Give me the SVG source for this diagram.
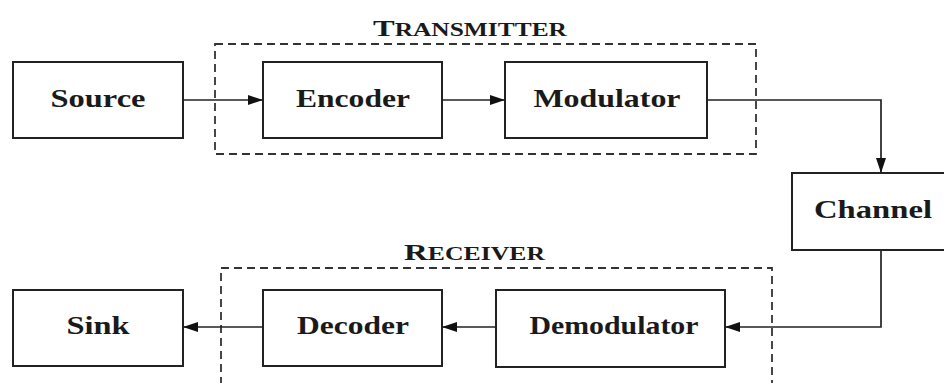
<svg xmlns="http://www.w3.org/2000/svg" width="944" height="383" viewBox="0 0 944 383">
<style>
.box{fill:#fff;stroke:#222;stroke-width:2}
.grp{fill:none;stroke:#333;stroke-width:1.8;stroke-dasharray:8 5}
.lbl{font-family:"Liberation Serif","Times New Roman",serif;font-weight:bold;font-size:26px;fill:#1a1a1a;text-anchor:middle}
.cap{font-family:"Liberation Serif","Times New Roman",serif;font-weight:bold;fill:#1a1a1a}
.wire{fill:none;stroke:#222;stroke-width:1.7}
</style>
<defs>
<marker id="arr" viewBox="0 0 15 10" refX="15" refY="5" markerWidth="15" markerHeight="10" markerUnits="userSpaceOnUse" orient="auto">
<path d="M0,0 L15,5 L0,10 z" fill="#111"/>
</marker>
</defs>
<rect width="944" height="383" fill="#fff"/>
<g id="transmitter">
<rect class="grp" x="215" y="44" width="541" height="110"/>
<text class="cap" x="373" y="36" textLength="194" lengthAdjust="spacingAndGlyphs"><tspan font-size="23">T</tspan><tspan font-size="18">RANSMITTER</tspan></text>
</g>
<g id="receiver">
<rect class="grp" x="221" y="268" width="551" height="125"/>
<text class="cap" x="404" y="260" textLength="141" lengthAdjust="spacingAndGlyphs"><tspan font-size="23">R</tspan><tspan font-size="18">ECEIVER</tspan></text>
</g>
<g id="source">
<rect class="box" x="13" y="62" width="170" height="76"/>
<text class="lbl" x="98" y="107" textLength="95" lengthAdjust="spacingAndGlyphs">Source</text>
</g>
<g id="encoder">
<rect class="box" x="263" y="62" width="179" height="76"/>
<text class="lbl" x="353" y="107" textLength="114" lengthAdjust="spacingAndGlyphs">Encoder</text>
</g>
<g id="modulator">
<rect class="box" x="505" y="62" width="202" height="76"/>
<text class="lbl" x="607" y="107" textLength="147" lengthAdjust="spacingAndGlyphs">Modulator</text>
</g>
<g id="channel">
<rect class="box" x="792" y="173" width="160" height="77"/>
<text class="lbl" x="873" y="218" textLength="118" lengthAdjust="spacingAndGlyphs">Channel</text>
</g>
<g id="demodulator">
<rect class="box" x="496" y="290" width="229" height="77"/>
<text class="lbl" x="614" y="334" textLength="169" lengthAdjust="spacingAndGlyphs">Demodulator</text>
</g>
<g id="decoder">
<rect class="box" x="263" y="290" width="179" height="76"/>
<text class="lbl" x="353" y="334" textLength="112" lengthAdjust="spacingAndGlyphs">Decoder</text>
</g>
<g id="sink">
<rect class="box" x="13" y="290" width="170" height="76"/>
<text class="lbl" x="98" y="334" textLength="63" lengthAdjust="spacingAndGlyphs">Sink</text>
</g>
<g id="connectors">
<path class="wire" d="M183,100 H263" marker-end="url(#arr)"/>
<path class="wire" d="M442,100 H505" marker-end="url(#arr)"/>
<path class="wire" d="M707,100 H881 V173" marker-end="url(#arr)"/>
<path class="wire" d="M881,250 V327 H725" marker-end="url(#arr)"/>
<path class="wire" d="M496,327 H442" marker-end="url(#arr)"/>
<path class="wire" d="M263,327 H183" marker-end="url(#arr)"/>
</g>
</svg>
